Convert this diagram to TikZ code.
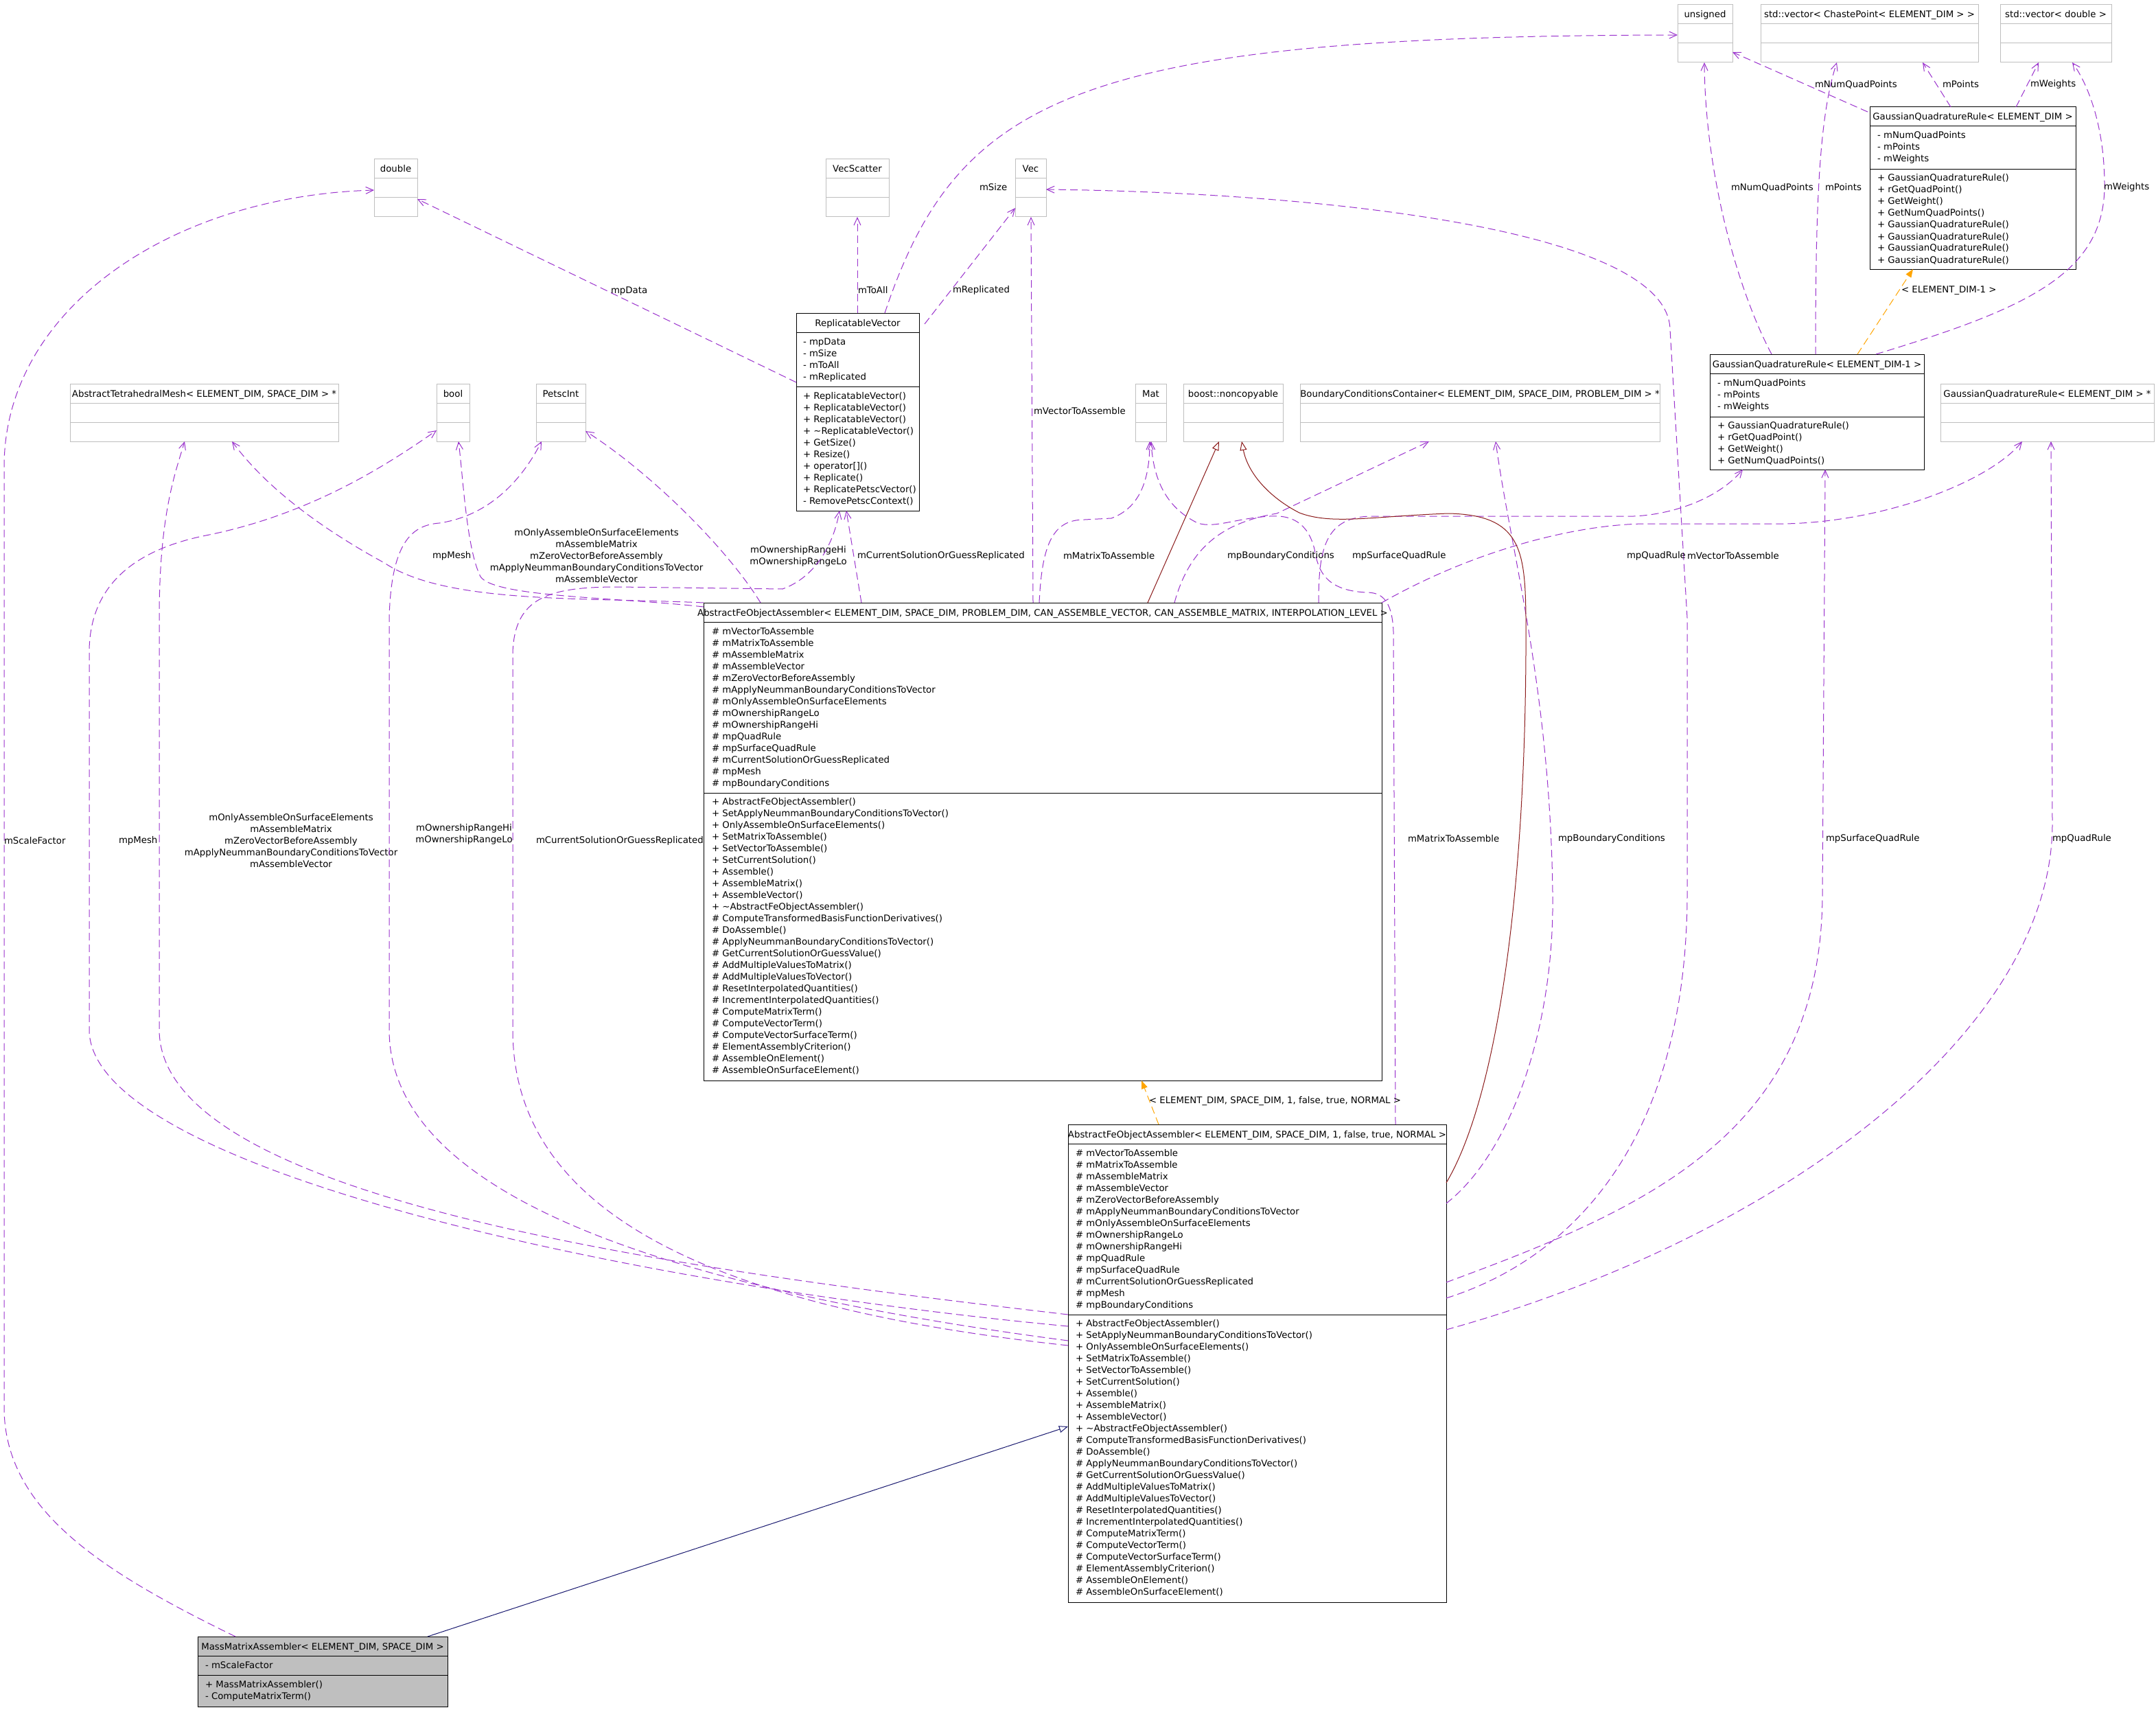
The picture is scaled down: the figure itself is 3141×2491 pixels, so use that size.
\documentclass[tikz,border=0pt]{standalone}
\usepackage{fontspec}
\setmainfont{DejaVu Sans}
\usetikzlibrary{arrows.meta}
\definecolor{edgep}{HTML}{9A32CD}
\definecolor{gbord}{HTML}{BFBFBF}
\definecolor{orng}{HTML}{FFA500}
\definecolor{inhred}{HTML}{8B1A1A}
\definecolor{inhblue}{HTML}{191970}
\newcommand{\umlcls}[9]{%
  \node[#2, minimum width={#5-#3}, minimum height={#6-#4}, anchor=north west] (#1) at (#3,#4) {};
  \draw[#2div] (#3,#7) -- (#5,#7) (#3,#8) -- (#5,#8);
  \node[hdr] (#1-h) at ({(#3+#5)/2},{#4+19}) {#9};
}
\newcommand{\mlines}[4]{\foreach \t [count=\i from 0] in {#3}{\node[txt] (#4\i) at (#1,{#2+5+17*\i}) {\t};}}
\newcommand{\afoaattrs}[3]{\mlines{#1}{#2}{\# mVectorToAssemble,\# mMatrixToAssemble,\# mAssembleMatrix,\# mAssembleVector,\# mZeroVectorBeforeAssembly,\# mApplyNeummanBoundaryConditionsToVector,\# mOnlyAssembleOnSurfaceElements,\# mOwnershipRangeLo,\# mOwnershipRangeHi,\# mpQuadRule,\# mpSurfaceQuadRule,\# mCurrentSolutionOrGuessReplicated,\# mpMesh,\# mpBoundaryConditions}{#3}}
\newcommand{\afoameths}[3]{\mlines{#1}{#2}{+ AbstractFeObjectAssembler(),+ SetApplyNeummanBoundaryConditionsToVector(),+ OnlyAssembleOnSurfaceElements(),+ SetMatrixToAssemble(),+ SetVectorToAssemble(),+ SetCurrentSolution(),+ Assemble(),+ AssembleMatrix(),+ AssembleVector(),+ \textasciitilde AbstractFeObjectAssembler(),\# ComputeTransformedBasisFunctionDerivatives(),\# DoAssemble(),\# ApplyNeummanBoundaryConditionsToVector(),\# GetCurrentSolutionOrGuessValue(),\# AddMultipleValuesToMatrix(),\# AddMultipleValuesToVector(),\# ResetInterpolatedQuantities(),\# IncrementInterpolatedQuantities(),\# ComputeMatrixTerm(),\# ComputeVectorTerm(),\# ComputeVectorSurfaceTerm(),\# ElementAssemblyCriterion(),\# AssembleOnElement(),\# AssembleOnSurfaceElement()}{#3}}
\begin{document}
\begin{tikzpicture}[x=1pt,y=-1pt,
  every node/.style={font=\fontsize{13.3}{17}\selectfont, inner sep=0pt, outer sep=0pt},
  gbox/.style={draw=gbord, line width=1pt, rectangle},
  gboxdiv/.style={draw=gbord, line width=1pt},
  bbox/.style={draw=black, line width=1pt, rectangle},
  bboxdiv/.style={draw=black, line width=1pt},
  mbox/.style={draw=black, fill=gbord, line width=1pt, rectangle},
  mboxdiv/.style={draw=black, line width=1pt},
  hdr/.style={anchor=base},
  txt/.style={anchor=base west},
  lbl/.style={anchor=west},
  mlbl/.style={anchor=center, align=center},
  mem/.style={draw=edgep, line width=1pt, dash pattern=on 11pt off 6pt, -{Straight Barb[length=11pt,width=10pt]}},
  tmpl/.style={draw=orng, line width=1pt, dash pattern=on 11pt off 6pt, -{Triangle[length=12pt,width=9pt]}},
  inhr/.style={draw=inhred, line width=1pt, -{Triangle[open,length=13pt,width=10pt,fill=white]}},
  inhb/.style={draw=inhblue, line width=1pt, -{Triangle[open,length=13pt,width=10pt,fill=white]}}
]
\fill[white] (0,0) rectangle (3141,2491);
\useasboundingbox (0,0) rectangle (3141,2491);

% ---------- classes ----------
\umlcls{unsigned}{gbox}{2444}{7}{2524}{91}{35}{63}{unsigned}
\umlcls{vecCP}{gbox}{2565}{7}{2882}{91}{35}{63}{std::vector< ChastePoint< ELEMENT\_DIM > >}
\umlcls{vecD}{gbox}{2914}{7}{3076}{91}{35}{63}{std::vector< double >}
\umlcls{gqr}{bbox}{2724}{156}{3024}{392}{184}{247}{GaussianQuadratureRule< ELEMENT\_DIM >}
\mlines{2735}{197}{- mNumQuadPoints,- mPoints,- mWeights}{gqra}
\mlines{2735}{259}{+ GaussianQuadratureRule(),+ rGetQuadPoint(),+ GetWeight(),+ GetNumQuadPoints(),+ GaussianQuadratureRule(),+ GaussianQuadratureRule(),+ GaussianQuadratureRule(),+ GaussianQuadratureRule()}{gqrm}
\umlcls{dbl}{gbox}{545}{232}{608}{316}{260}{288}{double}
\umlcls{vecscatter}{gbox}{1203}{232}{1295}{316}{260}{288}{VecScatter}
\umlcls{vec}{gbox}{1479}{232}{1524}{316}{260}{288}{Vec}
\umlcls{rv}{bbox}{1160}{456}{1339}{744}{484}{563}{ReplicatableVector}
\mlines{1170}{497}{- mpData,- mSize,- mToAll,- mReplicated}{rva}
\mlines{1170}{576}{+ ReplicatableVector(),+ ReplicatableVector(),+ ReplicatableVector(),+ \textasciitilde ReplicatableVector(),+ GetSize(),+ Resize(),+ operator[](),+ Replicate(),+ ReplicatePetscVector(),- RemovePetscContext()}{rvm}
\umlcls{gqrm}{bbox}{2491}{516}{2803}{684}{544}{607}{GaussianQuadratureRule< ELEMENT\_DIM-1 >}
\mlines{2502}{557}{- mNumQuadPoints,- mPoints,- mWeights}{gqrma}
\mlines{2502}{619}{+ GaussianQuadratureRule(),+ rGetQuadPoint(),+ GetWeight(),+ GetNumQuadPoints()}{gqrmm}
\umlcls{atm}{gbox}{102}{559}{493}{643}{587}{615}{AbstractTetrahedralMesh< ELEMENT\_DIM, SPACE\_DIM > *}
\umlcls{bool}{gbox}{636}{559}{684}{643}{587}{615}{bool}
\umlcls{petsc}{gbox}{781}{559}{853}{643}{587}{615}{PetscInt}
\umlcls{mat}{gbox}{1654}{559}{1699}{643}{587}{615}{Mat}
\umlcls{nonc}{gbox}{1724}{559}{1869}{643}{587}{615}{boost::noncopyable}
\umlcls{bcc}{gbox}{1894}{559}{2418}{643}{587}{615}{BoundaryConditionsContainer< ELEMENT\_DIM, SPACE\_DIM, PROBLEM\_DIM > *}
\umlcls{gqrp}{gbox}{2827}{559}{3138}{643}{587}{615}{GaussianQuadratureRule< ELEMENT\_DIM > *}
\umlcls{afoa}{bbox}{1025}{878}{2013}{1574}{906}{1155}{AbstractFeObjectAssembler< ELEMENT\_DIM, SPACE\_DIM, PROBLEM\_DIM, CAN\_ASSEMBLE\_VECTOR, CAN\_ASSEMBLE\_MATRIX, INTERPOLATION\_LEVEL >}
\afoaattrs{1037}{919}{afoaa}
\afoameths{1037}{1167}{afoam}
\umlcls{afoa1}{bbox}{1556}{1638}{2107}{2334}{1666}{1915}{AbstractFeObjectAssembler< ELEMENT\_DIM, SPACE\_DIM, 1, false, true, NORMAL >}
\afoaattrs{1567}{1679}{afoba}
\afoameths{1567}{1927}{afobm}
\umlcls{mma}{mbox}{288}{2384}{652}{2486}{2412}{2440}{MassMatrixAssembler< ELEMENT\_DIM, SPACE\_DIM >}
\mlines{299}{2425}{- mScaleFactor}{mmaa}
\mlines{299}{2453}{+ MassMatrixAssembler(),- ComputeMatrixTerm()}{mmam}

% ---------- member edges ----------
\draw[mem] (343,0 |- mma.north) .. controls (150,2290) and (6,2200) .. (6,2050) -- (6,680) .. controls (6,450) and (250,285) .. (dbl.west |- 0,277);
\node[lbl] (l1) at (6,1225) {mScaleFactor};
\draw[mem] (rv.west |- 0,557) -- (dbl.east |- 0,290);
\node[lbl] (l2) at (890,424) {mpData};
\draw[mem] (1249,0 |- rv.north) -- (1249,0 |- vecscatter.south);
\node[lbl] (l3) at (1250,423) {mToAll};
\draw[mem] ([shift={(8,16)}]rv.north east) -- (vec.west |- 0,303);
\node[lbl] (l4) at (1388,423) {mReplicated};
\draw[mem] (1289,0 |- rv.north) .. controls (1395,140) and (1570,52) .. (unsigned.west |- 0,51);
\node[lbl] (l5) at (1427,273) {mSize};
\draw[mem] (1505,0 |- afoa.north) -- (1502,0 |- vec.south);
\node[lbl] (l6) at (1506,599) {mVectorToAssemble};
\draw[mem] (afoa1.east |- 0,1891) .. controls (2300,1830) and (2458,1650) .. (2458,1300) -- (2458,900) -- (2433,480) .. controls (2430,330) and (1900,280) .. (vec.east |- 0,276);
\node[lbl] (l7) at (2458,810) {mVectorToAssemble};
\draw[mem] (1514,0 |- afoa.north) .. controls (1518,790) and (1535,757) .. (1580,757) -- (1619,755) .. controls (1660,740) and (1675,700) .. (1675,0 |- mat.south);
\node[lbl] (l8) at (1549,810) {mMatrixToAssemble};
\draw[mem] (2033,0 |- afoa1.north) -- (2030,920) .. controls (2028,870) and (2010,863) .. (1990,863) .. controls (1930,860) and (1920,830) .. (1915,800) .. controls (1905,760) and (1880,750) .. (1850,752) .. controls (1800,755) and (1770,770) .. (1745,762) .. controls (1700,740) and (1680,700) .. (1677,0 |- mat.south);
\node[lbl] (l9) at (2051,1222) {mMatrixToAssemble};
\draw[mem] (1711,0 |- afoa.north) .. controls (1735,790) and (1790,760) .. (1860,748) -- (2082,0 |- bcc.south);
\node[lbl] (l10) at (1788,810) {mpBoundaryConditions};
\draw[mem] (afoa1.east |- 0,1753) .. controls (2200,1680) and (2265,1500) .. (2262,1300) .. controls (2258,1000) and (2200,800) .. (2179,0 |- bcc.south);
\node[lbl] (l11) at (2270,1222) {mpBoundaryConditions};
\draw[mem] (1921,0 |- afoa.north) .. controls (1921,800) and (1930,752) .. (2000,752) -- (2380,752) .. controls (2430,750) and (2500,730) .. (2539,0 |- gqrm.south);
\node[lbl] (l12) at (1970,810) {mpSurfaceQuadRule};
\draw[mem] (afoa1.east |- 0,1868) .. controls (2400,1760) and (2655,1650) .. (2655,1300) -- (2659,0 |- gqrm.south);
\node[lbl] (l13) at (2660,1222) {mpSurfaceQuadRule};
\draw[mem] (afoa.north east) .. controls (2150,800) and (2300,763) .. (2400,763) -- (2600,763) .. controls (2750,760) and (2900,700) .. (2946,0 |- gqrp.south);
\node[lbl] (l14) at (2370,810) {mpQuadRule};
\draw[mem] (afoa1.east |- 0,1937) .. controls (2600,1800) and (2990,1500) .. (2990,1200) -- (2988,0 |- gqrp.south);
\node[lbl] (l15) at (2990,1222) {mpQuadRule};
\draw[mem] (afoa.north west) .. controls (850,870) and (650,880) .. (560,820) .. controls (450,760) and (380,700) .. (338,0 |- atm.south);
\node[lbl] (l16) at (630,810) {mpMesh};
\draw[mem] (afoa1.west |- 0,1915) .. controls (1000,1850) and (232,1750) .. (232,1500) -- (232,900) .. controls (232,750) and (255,690) .. (269,0 |- atm.south);
\node[lbl] (l17) at (173,1225) {mpMesh};
\draw[mem] (afoa.west |- 0,884) .. controls (900,870) and (720,870) .. (700,840) .. controls (680,800) and (675,700) .. (668,0 |- bool.south);
\node[mlbl] (l18) at (869,810) {mOnlyAssembleOnSurfaceElements\\mAssembleMatrix\\mZeroVectorBeforeAssembly\\mApplyNeummanBoundaryConditionsToVector\\mAssembleVector};
\draw[mem] (afoa1.west |- 0,1932) .. controls (900,1870) and (130,1700) .. (130,1500) -- (130,950) .. controls (130,850) and (200,800) .. (300,780) .. controls (450,750) and (560,680) .. (bool.west |- 0,627);
\node[mlbl] (l19) at (424,1225) {mOnlyAssembleOnSurfaceElements\\mAssembleMatrix\\mZeroVectorBeforeAssembly\\mApplyNeummanBoundaryConditionsToVector\\mAssembleVector};
\draw[mem] (1108,0 |- afoa.north) .. controls (1060,800) and (950,690) .. (petsc.east |- 0,628);
\node[mlbl] (l20) at (1163,810) {mOwnershipRangeHi\\mOwnershipRangeLo};
\draw[mem] (afoa1.west |- 0,1953) .. controls (1000,1880) and (567,1750) .. (567,1500) -- (567,900) .. controls (570,790) and (600,765) .. (640,762) .. controls (720,750) and (765,690) .. (789,0 |- petsc.south);
\node[mlbl] (l21) at (676,1215) {mOwnershipRangeHi\\mOwnershipRangeLo};
\draw[mem] (1255,0 |- afoa.north) -- (1233,0 |- rv.south);
\node[lbl] (l22) at (1249,810) {mCurrentSolutionOrGuessReplicated};
\draw[mem] (afoa1.west |- 0,1960) .. controls (1000,1900) and (747,1750) .. (747,1500) -- (747,950) .. controls (750,870) and (800,855) .. (900,855) -- (1140,858) .. controls (1190,840) and (1215,790) .. (1223,0 |- rv.south);
\node[lbl] (l23) at (781,1225) {mCurrentSolutionOrGuessReplicated};

% Gaussian quadrature edges
\draw[mem] ([shift={(-3,7)}]gqr.north west) -- (unsigned.south east |- 0,76);
\node[lbl] (l29) at (2644,123) {mNumQuadPoints};
\draw[mem] (2842,0 |- gqr.north) -- (2801,0 |- vecCP.south);
\node[lbl] (l30) at (2830,123) {mPoints};
\draw[mem] (2937,0 |- gqr.north) -- (2970,0 |- vecD.south);
\node[lbl] (l31) at (2958,123) {mWeights};
\draw[mem] (2581,0 |- gqrm.north) .. controls (2530,420) and (2484,250) .. (2483,0 |- unsigned.south);
\node[lbl] (l32) at (2522,273) {mNumQuadPoints};
\draw[mem] (2645,0 |- gqrm.north) .. controls (2645,300) and (2650,170) .. (2676,0 |- vecCP.south);
\node[lbl] (l33) at (2659,273) {mPoints};
\draw[mem] (2733,0 |- gqrm.north) .. controls (2950,450) and (3066,400) .. (3066,270) .. controls (3066,180) and (3040,120) .. (3019,0 |- vecD.south);
\node[lbl] (l34) at (3065,273) {mWeights};

% ---------- template instances ----------
\draw[tmpl] (1688,0 |- afoa1.north) -- (1663,0 |- afoa.south);
\node[lbl] (l24) at (1674,1604) {< ELEMENT\_DIM, SPACE\_DIM, 1, false, true, NORMAL >};
\draw[tmpl] (2706,0 |- gqrm.north) -- (2787,0 |- gqr.south);
\node[lbl] (l25) at (2770,423) {< ELEMENT\_DIM-1 >};

% ---------- inheritance ----------
\draw[inhr] (1672,0 |- afoa.north) -- (1776,0 |- nonc.south);
\draw[inhr] (afoa1.east |- 0,1723) .. controls (2180,1600) and (2225,1300) .. (2223,900) .. controls (2222,800) and (2215,750) .. (2110,748) .. controls (2000,752) and (1940,765) .. (1893,747) .. controls (1850,725) and (1818,690) .. (1809,0 |- nonc.south);
\draw[inhb] (623,0 |- mma.north) -- (afoa1.west |- 0,2078);
\end{tikzpicture}
\end{document}
